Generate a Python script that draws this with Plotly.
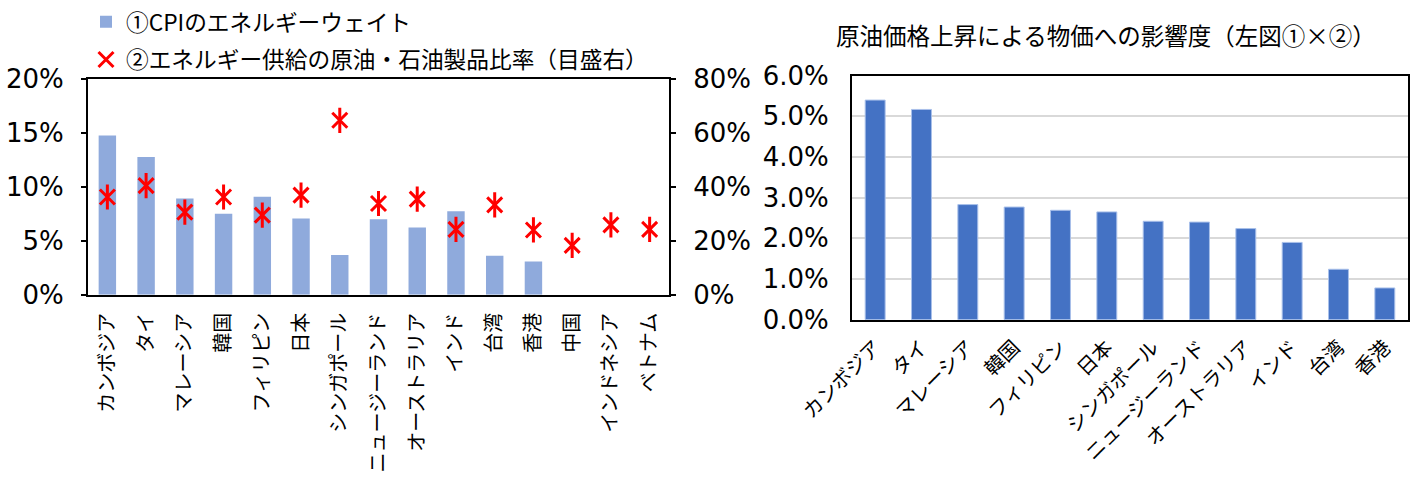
import plotly.graph_objects as go

# ---- data ----
left_categories = ["カンボジア", "タイ", "マレーシア", "韓国", "フィリピン", "日本", "シンガポール",
                   "ニュージーランド", "オーストラリア", "インド", "台湾", "香港", "中国", "インドネシア", "ベトナム"]
cpi_energy_weight = [0.1475, 0.1275, 0.0892, 0.0750, 0.0907, 0.0707, 0.0367,
                     0.0698, 0.0623, 0.0772, 0.0361, 0.0309, None, None, None]
oil_share = [0.362, 0.404, 0.306, 0.362, 0.295, 0.369, 0.646,
             0.338, 0.354, 0.242, 0.333, 0.240, 0.183, 0.259, 0.242]

right_categories = ["カンボジア", "タイ", "マレーシア", "韓国", "フィリピン", "日本", "シンガポール",
                    "ニュージーランド", "オーストラリア", "インド", "台湾", "香港"]
impact = [0.0540, 0.0517, 0.0283, 0.0277, 0.0269, 0.0265, 0.0242,
          0.0240, 0.0224, 0.0190, 0.0124, 0.0078]

legend1_name = "①CPIのエネルギーウェイト"
legend2_name = "②エネルギー供給の原油・石油製品比率（目盛右）"
right_title = "原油価格上昇による物価への影響度（左図①×②）"

W, H = 1419, 481
FONT = "Noto Sans CJK JP"
NUMFONT = "DejaVu Sans"

def px_x(v):
    return v / W

def px_y(v):
    return 1 - v / H

fig = go.Figure()

fig.add_trace(go.Bar(
    x=left_categories, y=cpi_energy_weight, name=legend1_name,
    marker=dict(color="#8FAADC", line=dict(width=0)), width=0.45,
    xaxis="x", yaxis="y", legend="legend",
))
# asterisk-like marker: X plus vertical stroke
fig.add_trace(go.Scatter(
    x=left_categories, y=oil_share, name=legend2_name, mode="markers",
    marker=dict(symbol="x-thin-open", size=15, color="#FF0000",
                line=dict(color="#FF0000", width=3)),
    xaxis="x", yaxis="y2", legend="legend2",
))
fig.add_trace(go.Scatter(
    x=left_categories, y=oil_share, name=legend2_name, mode="markers", showlegend=False,
    marker=dict(symbol="line-ns-open", size=18, color="#FF0000",
                line=dict(color="#FF0000", width=3)),
    xaxis="x", yaxis="y2", legend="legend2", hoverinfo="skip",
))
fig.add_trace(go.Bar(
    x=right_categories, y=impact, name="影響度", showlegend=False,
    marker=dict(color="#4472C4", line=dict(color="#A9C0EA", width=1)), width=0.43,
    xaxis="x2", yaxis="y3",
))

axis_common = dict(showline=True, linecolor="black", linewidth=2, automargin=False)

left_dom_x = [px_x(88), px_x(669)]
left_dom_y = [px_y(294), px_y(77)]
right_dom_x = [px_x(852), px_x(1408)]
right_dom_y = [px_y(319), px_y(74)]

fig.update_layout(
    width=W, height=H,
    margin=dict(l=0, r=0, t=0, b=0),
    template="none",
    paper_bgcolor="white", plot_bgcolor="white",
    font=dict(family=FONT, color="black", size=18),
    xaxis=dict(domain=left_dom_x, anchor="y", tickangle=-90, tickfont=dict(size=20),
               range=[-0.5, len(left_categories) - 0.5],
               mirror=True, showgrid=False, ticks="", ticklabelstandoff=8, **axis_common),
    yaxis=dict(domain=left_dom_y, anchor="x", range=[0, 0.2], dtick=0.05, tickformat=".0%",
               tickfont=dict(size=26, family=NUMFONT), ticks="outside", ticklen=5, tickwidth=2,
               tickcolor="black", ticklabelstandoff=12,
               mirror=True, showgrid=False, zeroline=False, **axis_common),
    yaxis2=dict(overlaying="y", side="right", anchor="x", range=[0, 0.8], dtick=0.2,
                tickformat=".0%", tickfont=dict(size=26, family=NUMFONT), ticks="outside",
                ticklen=5, tickwidth=2, tickcolor="black", ticklabelstandoff=12,
                showgrid=False, zeroline=False, **axis_common),
    xaxis2=dict(domain=right_dom_x, anchor="y3", tickangle=-45, tickfont=dict(size=20),
                range=[-0.5, len(right_categories) - 0.5],
                mirror=True, showgrid=False, ticks="", ticklabelstandoff=6, **axis_common),
    yaxis3=dict(domain=right_dom_y, anchor="x2", range=[0, 0.06], dtick=0.01, tickformat=".1%",
                tickfont=dict(size=26, family=NUMFONT), ticks="", ticklabelstandoff=16,
                mirror=True, showgrid=True,
                gridcolor="#D9D9D9", gridwidth=2, zeroline=False, **axis_common),
    legend=dict(x=px_x(86), y=px_y(20), xanchor="left", yanchor="middle",
                font=dict(size=22.7), bgcolor="rgba(0,0,0,0)", borderwidth=0),
    legend2=dict(x=px_x(86), y=px_y(58), xanchor="left", yanchor="middle",
                 font=dict(size=22.7), bgcolor="rgba(0,0,0,0)", borderwidth=0),
    annotations=[dict(text=right_title, x=px_x(1106), y=px_y(33), xref="paper", yref="paper",
                      xanchor="center", yanchor="middle", showarrow=False,
                      font=dict(size=23.5, family=FONT))],
)

fig.write_html("out.html", config={"displayModeBar": False},
               post_script="document.body.style.margin='0';")
